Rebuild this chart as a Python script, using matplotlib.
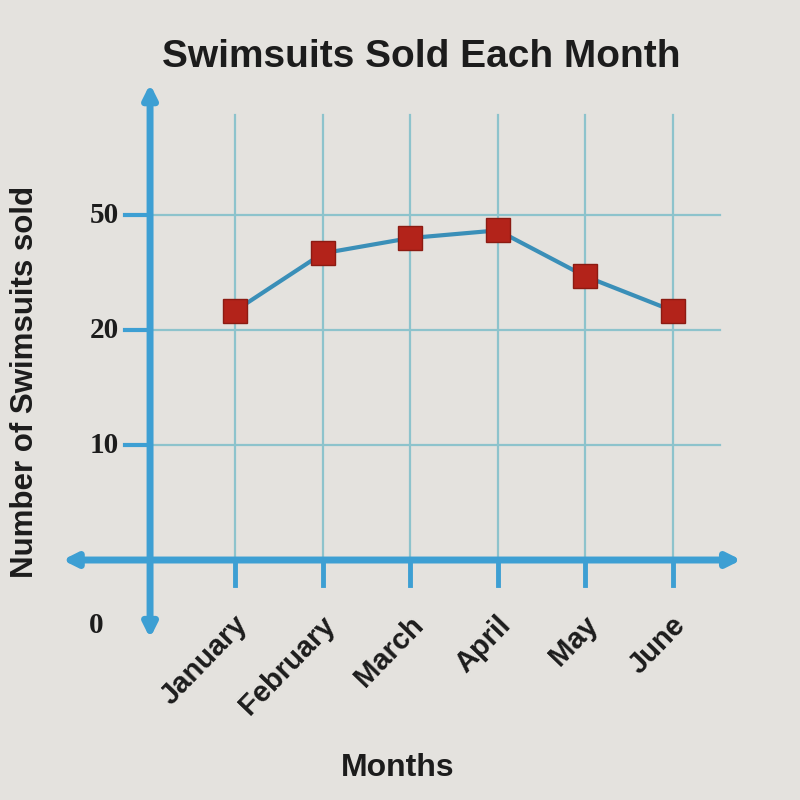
import numpy as np
import matplotlib.pyplot as plt
from matplotlib.scale import FuncScale

months = ["January", "February", "March", "April", "May", "June"]
sold = [25, 40, 44, 46, 34, 25]
y_ticks = [0, 10, 20, 50]

# the chart spaces 0, 10, 20, 50 evenly, so use a piecewise scale
knots_v = np.array([0, 10, 20, 50])
knots_p = np.array([0, 1, 2, 3])


def fwd(v):
    v = np.asarray(v, dtype=float)
    out = np.interp(v, knots_v, knots_p)
    out = np.where(v < 0, v / 10.0, out)
    out = np.where(v > 50, 3 + (v - 50) / 30.0, out)
    return out


def inv(p):
    p = np.asarray(p, dtype=float)
    out = np.interp(p, knots_p, knots_v)
    out = np.where(p < 0, p * 10.0, out)
    out = np.where(p > 3, 50 + (p - 3) * 30.0, out)
    return out


bg = "#e4e2de"
blue = "#3d9fd3"
grid_c = "#8dc3cc"
ink = "#1c1c1c"

fig = plt.figure(figsize=(8, 8), dpi=100, facecolor=bg)
ax = fig.add_axes([0, 0, 1, 1])
ax.set_facecolor(bg)
ax.set_yscale(FuncScale(ax, (fwd, inv)))
ax.set_xlim(-2.683, 6.45)
ax.set_ylim(inv(-2.087), inv(4.87))
ax.axis("off")

x = np.arange(len(months))
yax = -0.97

# horizontal grid and tick stubs
for t in y_ticks[1:]:
    ax.plot([yax, 5.54], [t, t], color=grid_c, lw=1.6, zorder=1)
    ax.plot([-1.26, yax], [t, t], color=blue, lw=3, zorder=2)
    ax.text(-1.33, t, str(t), ha="right", va="center", fontsize=21,
            fontweight="bold", family="Liberation Serif", color=ink)
ax.text(-1.5, inv(-0.57), "0", ha="right", va="center", fontsize=21,
        fontweight="bold", family="Liberation Serif", color=ink)

# vertical grid and tick stubs
for i in x:
    ax.plot([i, i], [0, inv(3.87)], color=grid_c, lw=1.6, zorder=1)
    ax.plot([i, i], [0, inv(-0.22)], color=blue, lw=3.5, zorder=2)
    ax.text(i - 0.02, inv(-0.44), months[i], ha="right", va="top",
            rotation=46, rotation_mode="anchor", fontsize=21,
            fontweight="bold", family="Liberation Sans", color=ink)

# axes with arrows
ax.annotate("", xy=(5.78, 0), xytext=(-1.97, 0),
            arrowprops=dict(arrowstyle="<|-|>,head_length=0.8,head_width=0.4",
                            color=blue, lw=5, shrinkA=0, shrinkB=0), zorder=3)
ax.annotate("", xy=(yax, inv(4.14)), xytext=(yax, inv(-0.68)),
            arrowprops=dict(arrowstyle="<|-|>,head_length=0.8,head_width=0.4",
                            color=blue, lw=5, shrinkA=0, shrinkB=0), zorder=3)

ax.plot(x, sold, color="#3a8fb8", lw=3, marker="s", markersize=17,
        markerfacecolor="#b3231a", markeredgecolor="#8c1b12", zorder=5)

fig.text(0.527, 0.929, "Swimsuits Sold Each Month", ha="center", va="center",
         fontsize=28, fontweight="bold", family="Liberation Sans", color=ink)
fig.text(0.031, 0.522, "Number of Swimsuits sold", ha="center", va="center",
         rotation=90, fontsize=22.5, fontweight="bold", family="Liberation Sans",
         color=ink)
fig.text(0.497, 0.04, "Months", ha="center", va="center", fontsize=23,
         fontweight="bold", family="Liberation Sans", color=ink)

fig.savefig("out.png", dpi=100, facecolor=bg)
